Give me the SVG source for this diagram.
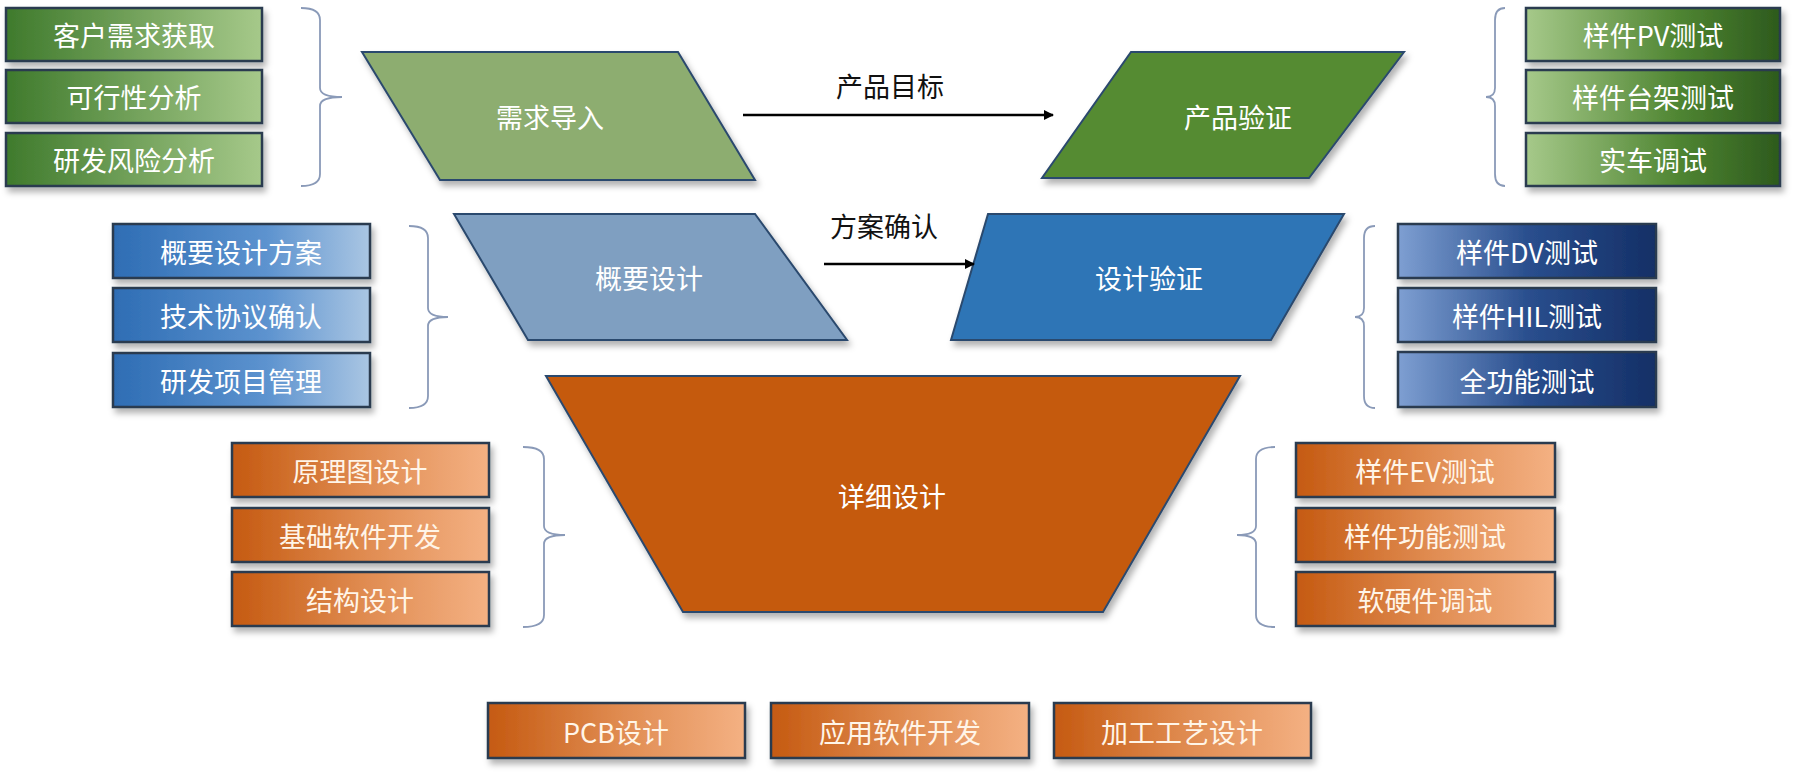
<svg xmlns="http://www.w3.org/2000/svg" width="1801" height="781" viewBox="0 0 1801 781">
<defs>
<linearGradient id="gL" x1="0" x2="1"><stop offset="0" stop-color="#3f7a2c"/><stop offset="1" stop-color="#a6c98a"/></linearGradient>
<linearGradient id="gR" x1="0" x2="1"><stop offset="0" stop-color="#a6c98a"/><stop offset="0.6" stop-color="#4f8532"/><stop offset="1" stop-color="#2d5a1d"/></linearGradient>
<linearGradient id="bL" x1="0" x2="1"><stop offset="0" stop-color="#2e6db4"/><stop offset="0.6" stop-color="#5d93cf"/><stop offset="1" stop-color="#aac6e3"/></linearGradient>
<linearGradient id="bR" x1="0" x2="1"><stop offset="0" stop-color="#7e9fd2"/><stop offset="0.5" stop-color="#2a4f8e"/><stop offset="1" stop-color="#142f66"/></linearGradient>
<linearGradient id="o" x1="0" x2="1"><stop offset="0" stop-color="#c55a11"/><stop offset="0.5" stop-color="#df8a4f"/><stop offset="1" stop-color="#f4b183"/></linearGradient>
<filter id="sh" x="-10%" y="-10%" width="125%" height="140%"><feDropShadow dx="3" dy="5" stdDeviation="3" flood-color="#000" flood-opacity="0.3"/></filter>
<marker id="ar" markerWidth="10" markerHeight="10" refX="9" refY="5" orient="auto" markerUnits="userSpaceOnUse"><path d="M0,0 L10,5 L0,10 z" fill="#000"/></marker>
</defs>
<style>
.bx{stroke:#2b3a4f;stroke-width:2.5;filter:url(#sh)}
.sh{stroke:#2c4a6e;stroke-width:2;filter:url(#sh)}
.t{font-family:"Noto Sans CJK SC","Liberation Sans",sans-serif;font-size:27px;fill:#fff;text-anchor:middle;dominant-baseline:central}
.to{fill:#fff5e8}
.lb{font-family:"Noto Sans CJK SC","Liberation Sans",sans-serif;font-size:27px;fill:#111;text-anchor:middle}
.br{fill:none;stroke:#8a9ab8;stroke-width:1.8}
.ln{stroke:#000;stroke-width:2.5;marker-end:url(#ar)}
</style>
<rect width="1801" height="781" fill="#fff"/>
<g id="xuqiu"><polygon class="sh" points="362,52 678,52 755,180 440,180" fill="#8dad70"/><text class="t" x="550" y="116">需求导入</text></g>
<g id="chanpinyanzheng"><polygon class="sh" points="1131,52 1404,52 1309,178 1042,178" fill="#558b33"/><text class="t" x="1238" y="116">产品验证</text></g>
<g id="gaiyao"><polygon class="sh" points="454,214 755,214 847,340 528,340" fill="#7f9fc1"/><text class="t" x="649" y="277">概要设计</text></g>
<g id="shejiyanzheng"><polygon class="sh" points="988,214 1344,214 1271,340 951,340" fill="#2e75b6"/><text class="t" x="1149" y="277">设计验证</text></g>
<g id="xiangxi"><polygon class="sh" points="546,376 1240,376 1103,612 683,612" fill="#c55a11"/><text class="t" x="892" y="495">详细设计</text></g>
<g id="connectors">
<line class="ln" x1="743" y1="115" x2="1053" y2="115"/><text class="lb" x="890" y="97">产品目标</text>
<line class="ln" x1="824" y1="264" x2="974" y2="264"/><text class="lb" x="884" y="237">方案确认</text>
<path class="br" d="M301,8 Q320,8 320,20 L320,88 Q320,97 342,97 Q320,97 320,106 L320,174 Q320,186 301,186"/>
<path class="br" d="M1505,8 Q1495,8 1495,20 L1495,88 Q1495,97 1486,97 Q1495,97 1495,106 L1495,174 Q1495,186 1505,186"/>
<path class="br" d="M409,226 Q428,226 428,238 L428,308 Q428,317 448,317 Q428,317 428,326 L428,396 Q428,408 409,408"/>
<path class="br" d="M1375,226 Q1364,226 1364,238 L1364,308 Q1364,317 1355,317 Q1364,317 1364,326 L1364,396 Q1364,408 1375,408"/>
<path class="br" d="M523,447 Q544,447 544,459 L544,526 Q544,535 565,535 Q544,535 544,544 L544,615 Q544,627 523,627"/>
<path class="br" d="M1275,447 Q1256,447 1256,459 L1256,526 Q1256,535 1237,535 Q1256,535 1256,544 L1256,615 Q1256,627 1275,627"/>
</g>
<g id="l1"><rect class="bx" x="6" y="8" width="256" height="53" fill="url(#gL)"/><text class="t" x="134" y="34">客户需求获取</text></g>
<g id="l2"><rect class="bx" x="6" y="70" width="256" height="53" fill="url(#gL)"/><text class="t" x="134" y="96">可行性分析</text></g>
<g id="l3"><rect class="bx" x="6" y="133" width="256" height="53" fill="url(#gL)"/><text class="t" x="134" y="159">研发风险分析</text></g>
<g id="r1"><rect class="bx" x="1526" y="8" width="254" height="53" fill="url(#gR)"/><text class="t" x="1653" y="34">样件PV测试</text></g>
<g id="r2"><rect class="bx" x="1526" y="70" width="254" height="53" fill="url(#gR)"/><text class="t" x="1653" y="96">样件台架测试</text></g>
<g id="r3"><rect class="bx" x="1526" y="133" width="254" height="53" fill="url(#gR)"/><text class="t" x="1653" y="159">实车调试</text></g>
<g id="bl1"><rect class="bx" x="113" y="224" width="257" height="54" fill="url(#bL)"/><text class="t" x="241" y="251">概要设计方案</text></g>
<g id="bl2"><rect class="bx" x="113" y="288" width="257" height="54" fill="url(#bL)"/><text class="t" x="241" y="315">技术协议确认</text></g>
<g id="bl3"><rect class="bx" x="113" y="353" width="257" height="54" fill="url(#bL)"/><text class="t" x="241" y="380">研发项目管理</text></g>
<g id="br1"><rect class="bx" x="1398" y="224" width="258" height="54" fill="url(#bR)"/><text class="t" x="1527" y="251">样件DV测试</text></g>
<g id="br2"><rect class="bx" x="1398" y="288" width="258" height="54" fill="url(#bR)"/><text class="t" x="1527" y="315">样件HIL测试</text></g>
<g id="br3"><rect class="bx" x="1398" y="352" width="258" height="55" fill="url(#bR)"/><text class="t" x="1527" y="380">全功能测试</text></g>
<g id="ol1"><rect class="bx" x="232" y="443" width="257" height="54" fill="url(#o)"/><text class="t to" x="360" y="470">原理图设计</text></g>
<g id="ol2"><rect class="bx" x="232" y="508" width="257" height="54" fill="url(#o)"/><text class="t to" x="360" y="535">基础软件开发</text></g>
<g id="ol3"><rect class="bx" x="232" y="572" width="257" height="54" fill="url(#o)"/><text class="t to" x="360" y="599">结构设计</text></g>
<g id="or1"><rect class="bx" x="1296" y="443" width="259" height="54" fill="url(#o)"/><text class="t to" x="1425" y="470">样件EV测试</text></g>
<g id="or2"><rect class="bx" x="1296" y="508" width="259" height="54" fill="url(#o)"/><text class="t to" x="1425" y="535">样件功能测试</text></g>
<g id="or3"><rect class="bx" x="1296" y="572" width="259" height="54" fill="url(#o)"/><text class="t to" x="1425" y="599">软硬件调试</text></g>
<g id="b1"><rect class="bx" x="488" y="703" width="257" height="55" fill="url(#o)"/><text class="t to" x="616" y="731">PCB设计</text></g>
<g id="b2"><rect class="bx" x="771" y="703" width="258" height="55" fill="url(#o)"/><text class="t to" x="900" y="731">应用软件开发</text></g>
<g id="b3"><rect class="bx" x="1054" y="703" width="257" height="55" fill="url(#o)"/><text class="t to" x="1182" y="731">加工工艺设计</text></g>
</svg>
